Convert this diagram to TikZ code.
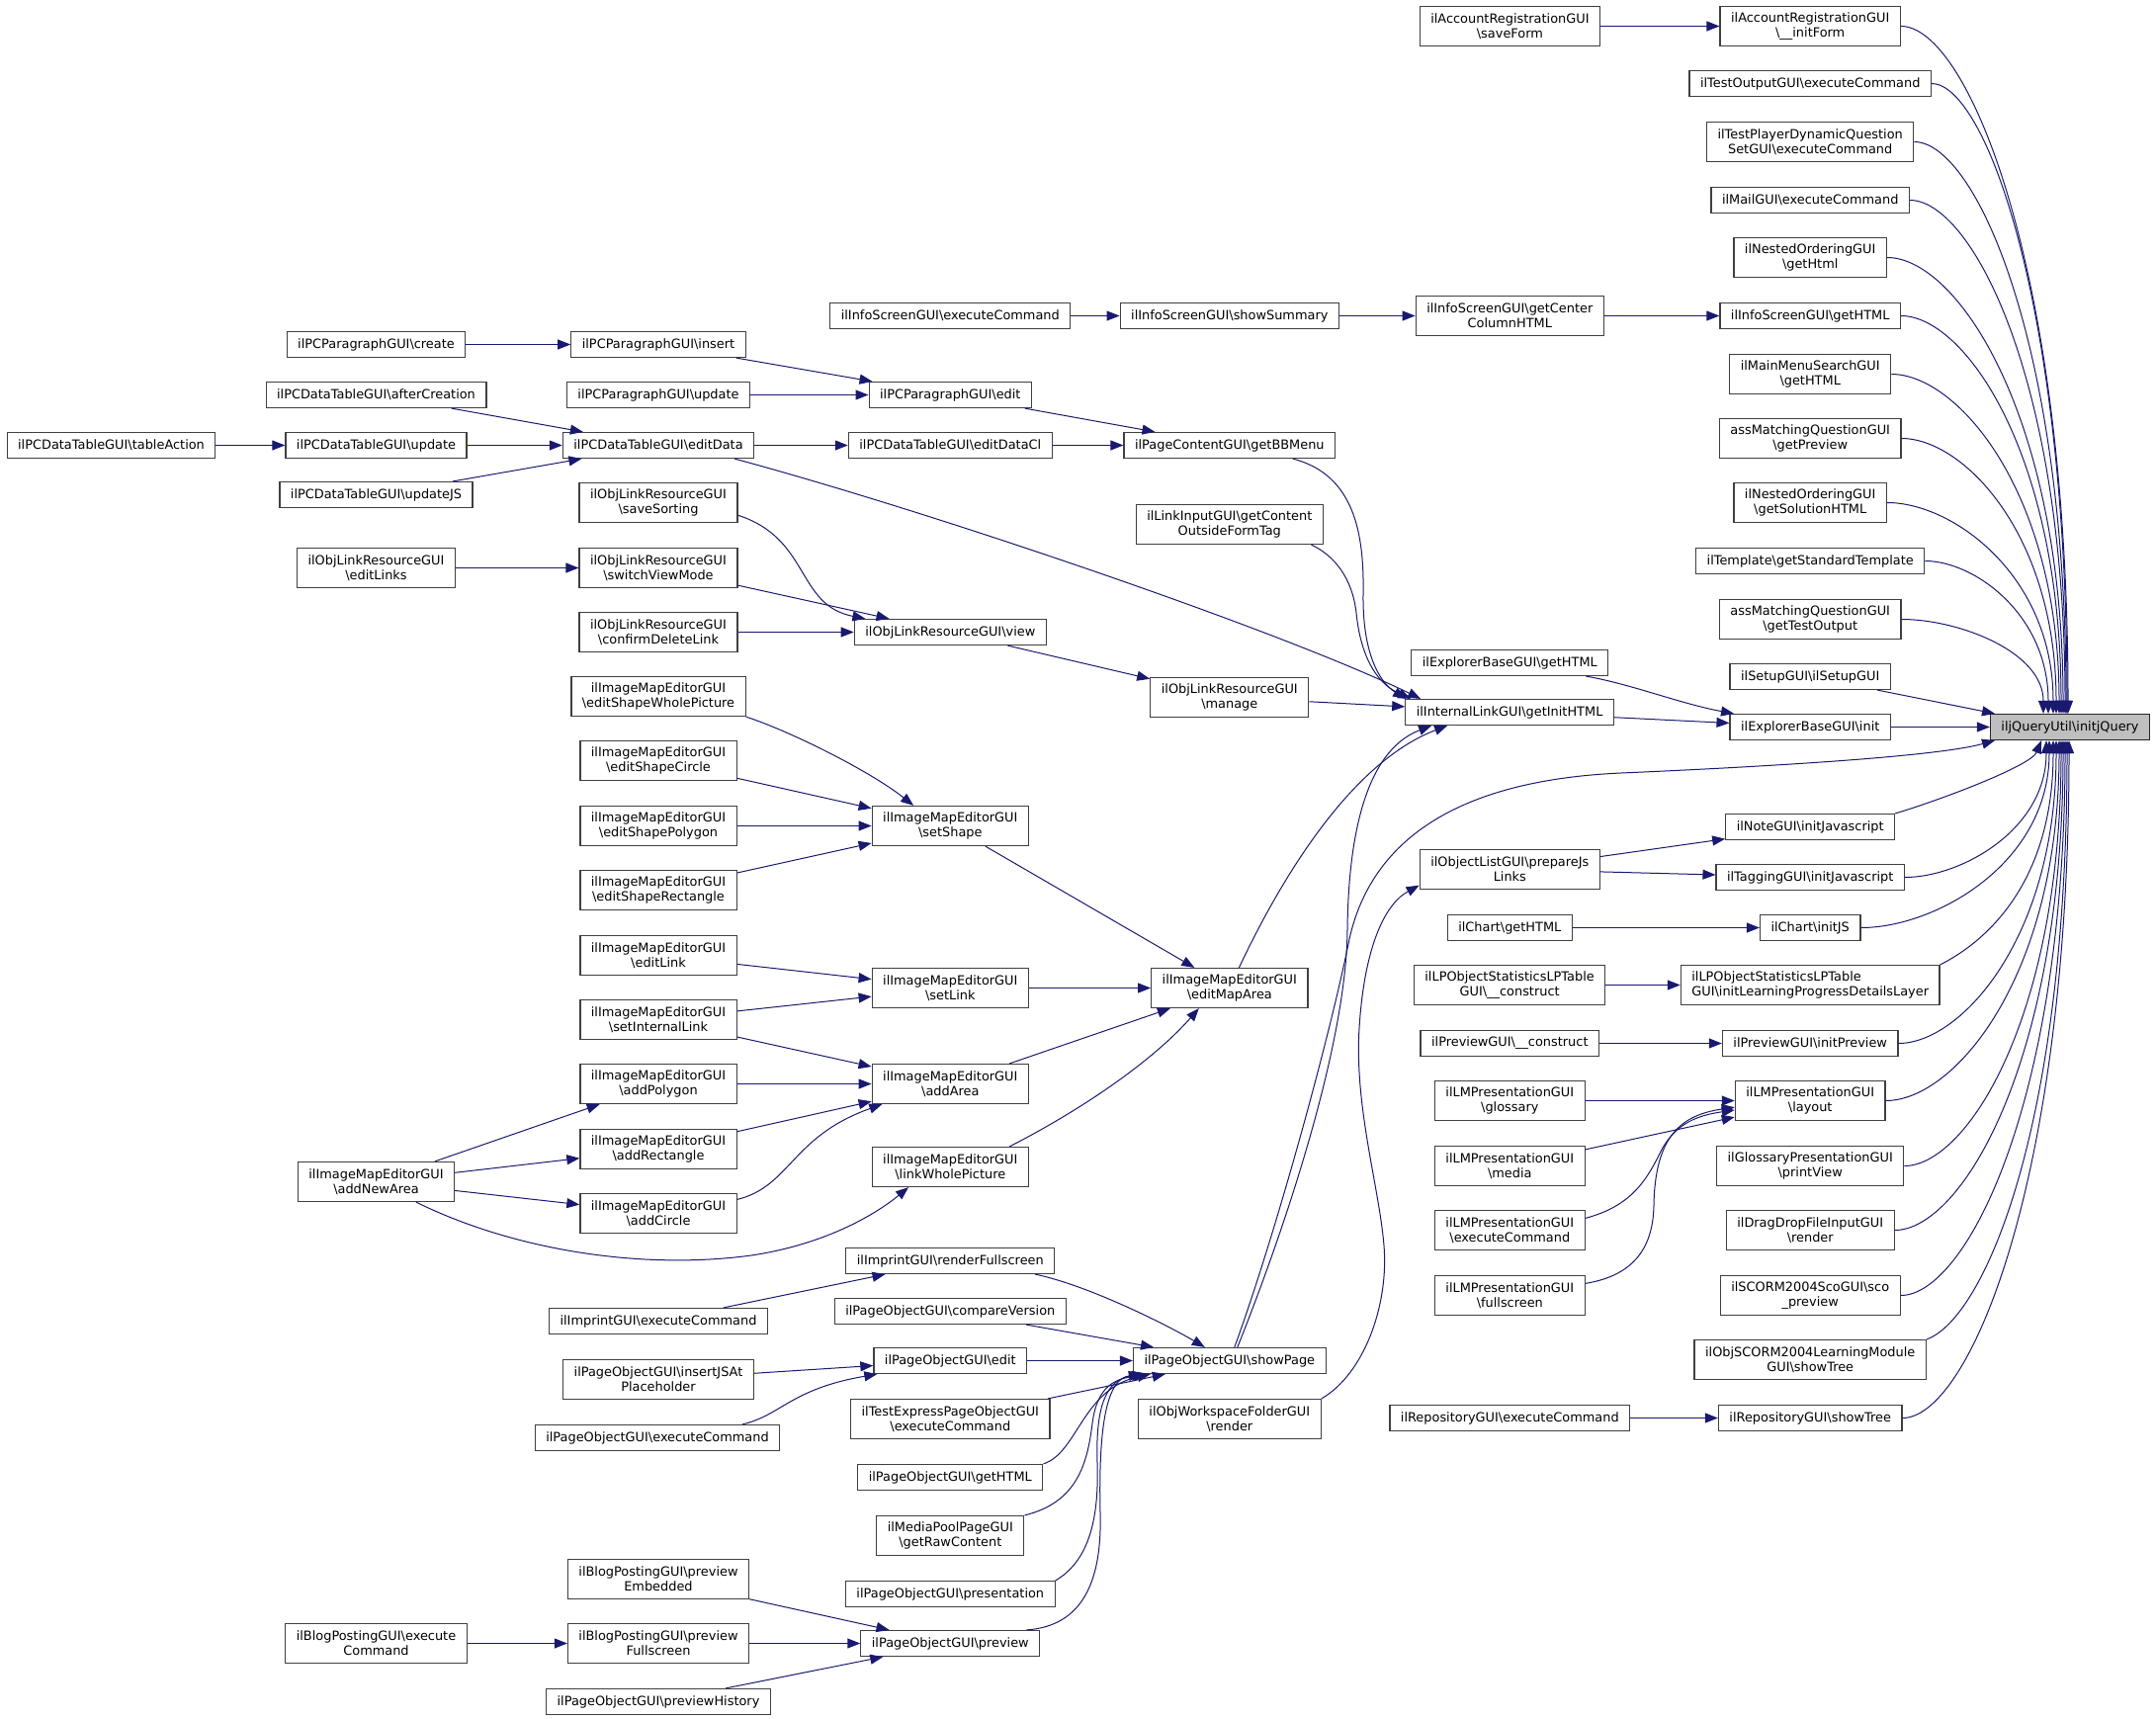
\documentclass[tikz,border=0pt]{standalone}
\usepackage{fontspec}
\setmainfont{DejaVu Sans}
\usetikzlibrary{arrows.meta}
\definecolor{edgeblue}{rgb}{0.098,0.098,0.439}
\definecolor{boxgray}{rgb}{0.25,0.25,0.25}
\definecolor{rootgray}{rgb}{0.75,0.75,0.75}
\newcommand{\bsl}{\textbackslash}
\tikzset{
  fn/.style={draw=boxgray, fill=white, line width=1.2pt, inner xsep=11pt, inner ysep=2pt,
    minimum height=26pt, align=center, font=\fontsize{12.9}{15}\selectfont},
  fntwo/.style={fn, minimum height=40pt},
  rootfn/.style={fn, fill=rootgray, draw=black!85},
  callarrow/.style={draw=edgeblue, line width=1pt, -{Triangle[length=13pt,width=10pt]}}
}

\begin{document}
\begin{tikzpicture}[x=1pt,y=-1pt]
      \useasboundingbox (0,0) rectangle (2181,1739);
      % column 0 and 1
      \node[fn] (tableact) at (112.5,450.5) {ilPCDataTableGUI\bsl tableAction};
      \node[fn] (parcreate) at (380.5,348.5) {ilPCParagraphGUI\bsl create};
      \node[fn] (dtafter) at (380.5,399.5) {ilPCDataTableGUI\bsl afterCreation};
      \node[fn] (dtupdate) at (380.5,450.5) {ilPCDataTableGUI\bsl update};
      \node[fn] (dtupdjs) at (380.5,500.5) {ilPCDataTableGUI\bsl updateJS};
      \node[fntwo] (oleditlinks) at (380.5,574.5) {ilObjLinkResourceGUI\\\bsl editLinks};
      \node[fntwo] (imnewarea) at (380.5,1195.5) {ilImageMapEditorGUI\\\bsl addNewArea};
      \node[fntwo] (blogexec) at (380.5,1662.5) {ilBlogPostingGUI\bsl execute\\Command};
      % column 2
      \node[fn] (parinsert) at (666,348.5) {ilPCParagraphGUI\bsl insert};
      \node[fn] (parupdate) at (666,399.5) {ilPCParagraphGUI\bsl update};
      \node[fn] (dteditdata) at (666,450.5) {ilPCDataTableGUI\bsl editData};
      \node[fntwo] (olsavesort) at (666,508.5) {ilObjLinkResourceGUI\\\bsl saveSorting};
      \node[fntwo] (olswitch) at (666,574.5) {ilObjLinkResourceGUI\\\bsl switchViewMode};
      \node[fntwo] (olconfirm) at (666,639.5) {ilObjLinkResourceGUI\\\bsl confirmDeleteLink};
      \node[fntwo] (imwhole) at (666,704.5) {ilImageMapEditorGUI\\\bsl editShapeWholePicture};
      \node[fntwo] (imcircle) at (666,769.5) {ilImageMapEditorGUI\\\bsl editShapeCircle};
      \node[fntwo] (impolygon) at (666,835.5) {ilImageMapEditorGUI\\\bsl editShapePolygon};
      \node[fntwo] (imrect) at (666,900.5) {ilImageMapEditorGUI\\\bsl editShapeRectangle};
      \node[fntwo] (imeditlink) at (666,966.5) {ilImageMapEditorGUI\\\bsl editLink};
      \node[fntwo] (iminternal) at (666,1031.5) {ilImageMapEditorGUI\\\bsl setInternalLink};
      \node[fntwo] (imaddpoly) at (666,1096.5) {ilImageMapEditorGUI\\\bsl addPolygon};
      \node[fntwo] (imaddrect) at (666,1162.5) {ilImageMapEditorGUI\\\bsl addRectangle};
      \node[fntwo] (imaddcircle) at (666,1227.5) {ilImageMapEditorGUI\\\bsl addCircle};
      \node[fn] (imprexec) at (666,1336.5) {ilImprintGUI\bsl executeCommand};
      \node[fntwo] (poinsert) at (666,1395.5) {ilPageObjectGUI\bsl insertJSAt\\Placeholder};
      \node[fn] (poexec) at (665,1454.5) {ilPageObjectGUI\bsl executeCommand};
      \node[fntwo] (blogembed) at (666,1597.5) {ilBlogPostingGUI\bsl preview\\Embedded};
      \node[fntwo] (blogfull) at (666,1662.5) {ilBlogPostingGUI\bsl preview\\Fullscreen};
      \node[fn] (pohistory) at (666,1721.5) {ilPageObjectGUI\bsl previewHistory};
      % column 3
      \node[fn] (isexec) at (961.3,319.5) {ilInfoScreenGUI\bsl executeCommand};
      \node[fn] (paredit) at (961.3,399.5) {ilPCParagraphGUI\bsl edit};
      \node[fn] (dteditcl) at (961.3,450.5) {ilPCDataTableGUI\bsl editDataCl};
      \node[fn] (olview) at (961.3,639.5) {ilObjLinkResourceGUI\bsl view};
      \node[fntwo] (imsetshape) at (961.3,835.5) {ilImageMapEditorGUI\\\bsl setShape};
      \node[fntwo] (imsetlink) at (961.3,999.5) {ilImageMapEditorGUI\\\bsl setLink};
      \node[fntwo] (imaddarea) at (961.3,1096.5) {ilImageMapEditorGUI\\\bsl addArea};
      \node[fntwo] (imwholepic) at (961.3,1180.5) {ilImageMapEditorGUI\\\bsl linkWholePicture};
      \node[fn] (imprfull) at (961.3,1275.5) {ilImprintGUI\bsl renderFullscreen};
      \node[fn] (pocompare) at (961.3,1326.5) {ilPageObjectGUI\bsl compareVersion};
      \node[fn] (poedit) at (961.3,1376.5) {ilPageObjectGUI\bsl edit};
      \node[fntwo] (texexec) at (961.3,1435.5) {ilTestExpressPageObjectGUI\\\bsl executeCommand};
      \node[fn] (pogethtml) at (961.3,1494.5) {ilPageObjectGUI\bsl getHTML};
      \node[fntwo] (mprawcontent) at (961.3,1553.5) {ilMediaPoolPageGUI\\\bsl getRawContent};
      \node[fn] (popresent) at (961.3,1612.5) {ilPageObjectGUI\bsl presentation};
      \node[fn] (popreview) at (961.3,1662.5) {ilPageObjectGUI\bsl preview};
      % column 4
      \node[fn] (isshowsum) at (1243.8,319.5) {ilInfoScreenGUI\bsl showSummary};
      \node[fn] (bbmenu) at (1243.8,450.5) {ilPageContentGUI\bsl getBBMenu};
      \node[fntwo] (linkinput) at (1243.8,530.5) {ilLinkInputGUI\bsl getContent\\OutsideFormTag};
      \node[fntwo] (olmanage) at (1243.8,705.5) {ilObjLinkResourceGUI\\\bsl manage};
      \node[fntwo] (imeditmap) at (1243.8,999.5) {ilImageMapEditorGUI\\\bsl editMapArea};
      \node[fn] (poshowpage) at (1243.8,1376.5) {ilPageObjectGUI\bsl showPage};
      \node[fntwo] (owsrender) at (1243.8,1435.5) {ilObjWorkspaceFolderGUI\\\bsl render};
      % column 5
      \node[fntwo] (arsaveform) at (1527.4,26.5) {ilAccountRegistrationGUI\\\bsl saveForm};
      \node[fntwo] (iscenter) at (1527.3,319.5) {ilInfoScreenGUI\bsl getCenter\\ColumnHTML};
      \node[fn] (expgethtml) at (1527.3,670.5) {ilExplorerBaseGUI\bsl getHTML};
      \node[fn] (ilgetinit) at (1527.1,720.5) {ilInternalLinkGUI\bsl getInitHTML};
      \node[fntwo] (olprepare) at (1527.3,879.5) {ilObjectListGUI\bsl prepareJs\\Links};
      \node[fn] (chartgethtml) at (1527.3,938.5) {ilChart\bsl getHTML};
      \node[fntwo] (lpconstruct) at (1527.1,996.5) {ilLPObjectStatisticsLPTable\\GUI\bsl\_\_construct};
      \node[fn] (prevconstruct) at (1527.3,1055.5) {ilPreviewGUI\bsl\_\_construct};
      \node[fntwo] (lmglossary) at (1527.3,1113.5) {ilLMPresentationGUI\\\bsl glossary};
      \node[fntwo] (lmmedia) at (1527.3,1179.5) {ilLMPresentationGUI\\\bsl media};
      \node[fntwo] (lmexec) at (1527.3,1244.5) {ilLMPresentationGUI\\\bsl executeCommand};
      \node[fntwo] (lmfull) at (1527.3,1310.5) {ilLMPresentationGUI\\\bsl fullscreen};
      \node[fn] (repoexec) at (1527.3,1434.5) {ilRepositoryGUI\bsl executeCommand};
      % column 6
      \node[fntwo] (arinitform) at (1831.2,26.5) {ilAccountRegistrationGUI\\\bsl\_\_initForm};
      \node[fn] (testoutput) at (1831.2,84.5) {ilTestOutputGUI\bsl executeCommand};
      \node[fntwo] (testplayer) at (1831.2,143.5) {ilTestPlayerDynamicQuestion\\SetGUI\bsl executeCommand};
      \node[fn] (mailexec) at (1831.2,202.5) {ilMailGUI\bsl executeCommand};
      \node[fntwo] (nestedhtml) at (1831.2,260.5) {ilNestedOrderingGUI\\\bsl getHtml};
      \node[fn] (isgethtml) at (1831.2,319.5) {ilInfoScreenGUI\bsl getHTML};
      \node[fntwo] (mmsearch) at (1831.2,378.5) {ilMainMenuSearchGUI\\\bsl getHTML};
      \node[fntwo] (amgetpreview) at (1831.2,443.5) {assMatchingQuestionGUI\\\bsl getPreview};
      \node[fntwo] (nestedsolution) at (1831.2,508.5) {ilNestedOrderingGUI\\\bsl getSolutionHTML};
      \node[fn] (template) at (1831.2,567.5) {ilTemplate\bsl getStandardTemplate};
      \node[fntwo] (amtestoutput) at (1831.2,626.5) {assMatchingQuestionGUI\\\bsl getTestOutput};
      \node[fn] (setupgui) at (1831.2,684.5) {ilSetupGUI\bsl ilSetupGUI};
      \node[fn] (expinit) at (1831.2,735.5) {ilExplorerBaseGUI\bsl init};
      \node[fn] (noteinit) at (1831.2,836.5) {ilNoteGUI\bsl initJavascript};
      \node[fn] (tagginit) at (1831.2,887.5) {ilTaggingGUI\bsl initJavascript};
      \node[fn] (chartinit) at (1831.2,938.5) {ilChart\bsl initJS};
      \node[fntwo, align=left] (lpinitlayer) at (1831.2,996.5) {ilLPObjectStatisticsLPTable\\GUI\bsl initLearningProgressDetailsLayer};
      \node[fn] (previnit) at (1831.2,1055.5) {ilPreviewGUI\bsl initPreview};
      \node[fntwo] (lmlayout) at (1831.2,1113.5) {ilLMPresentationGUI\\\bsl layout};
      \node[fntwo] (glossprint) at (1831.2,1179.5) {ilGlossaryPresentationGUI\\\bsl printView};
      \node[fntwo] (dragdrop) at (1831.2,1244.5) {ilDragDropFileInputGUI\\\bsl render};
      \node[fntwo] (scopreview) at (1831.2,1310.5) {ilSCORM2004ScoGUI\bsl sco\\\_preview};
      \node[fntwo] (scormtree) at (1831.2,1375.5) {ilObjSCORM2004LearningModule\\GUI\bsl showTree};
      \node[fn] (repotree) at (1831.2,1434.5) {ilRepositoryGUI\bsl showTree};
      % root
      \node[rootfn] (jq) at (2094,735.5) {iljQueryUtil\bsl initjQuery};

      % straight calls
      \foreach \from/\to in {arsaveform/arinitform, isexec/isshowsum, isshowsum/iscenter,
          iscenter/isgethtml, parcreate/parinsert, parinsert/paredit, parupdate/paredit,
          paredit/bbmenu, dtafter/dteditdata, tableact/dtupdate, dtupdate/dteditdata,
          dtupdjs/dteditdata, dteditdata/dteditcl, dteditcl/bbmenu, oleditlinks/olswitch,
          olswitch/olview, olconfirm/olview, olview/olmanage, olmanage/ilgetinit,
          ilgetinit/expinit, expinit/jq, imcircle/imsetshape, impolygon/imsetshape,
          imrect/imsetshape, imsetshape/imeditmap, imeditlink/imsetlink, iminternal/imsetlink,
          iminternal/imaddarea, imsetlink/imeditmap, imaddarea/imeditmap, imaddpoly/imaddarea,
          imaddrect/imaddarea, imnewarea/imaddpoly, imnewarea/imaddrect, imnewarea/imaddcircle,
          imprexec/imprfull, pocompare/poshowpage, poedit/poshowpage, poinsert/poedit,
          texexec/poshowpage, blogembed/popreview, blogfull/popreview, pohistory/popreview,
          blogexec/blogfull, olprepare/noteinit, olprepare/tagginit, chartgethtml/chartinit,
          lpconstruct/lpinitlayer, prevconstruct/previnit, lmglossary/lmlayout,
          lmmedia/lmlayout, repoexec/repotree}
        \draw[callarrow] (\from) -- (\to);
      \draw[callarrow] (setupgui) -- ([xshift=-76pt]jq.north);

      % curved calls on the left
      \draw[callarrow] (olsavesort.-9) .. controls (820,545) and (805,612) .. (olview.171);
      \draw[callarrow] (imwhole.south east) .. controls (800,740) and (880,780) .. (imsetshape.151);
      \draw[callarrow] (imaddcircle.10) .. controls (800,1200) and (800,1150) .. ([xshift=-69pt]imaddarea.south);
      \draw[callarrow] (imnewarea.-27) .. controls (520,1265) and (650,1285) .. (760,1270)
        .. controls (840,1258) and (890,1225) .. (imwholepic.-154);
      \draw[callarrow] (imwholepic.19) .. controls (1080,1130) and (1160,1080) .. ([xshift=-31pt]imeditmap.south);
      \draw[callarrow] (poexec.9) .. controls (790,1432) and (800,1405) .. ([xshift=-74pt]poedit.south);
      \draw[callarrow] (imprfull.-9) .. controls (1100,1300) and (1180,1340) .. ([xshift=-25pt]poshowpage.north);
      \draw[callarrow] (pogethtml.north east) .. controls (1090,1470) and (1095,1405) .. ([xshift=-80pt]poshowpage.south);
      \draw[callarrow] (mprawcontent.north east) .. controls (1090,1520) and (1100,1480) .. (1105,1440)
        .. controls (1110,1400) and (1130,1395) .. ([xshift=-84pt]poshowpage.south);
      \draw[callarrow] (popresent.north east) .. controls (1100,1580) and (1112,1540) .. (1110,1480)
        .. controls (1108,1420) and (1120,1395) .. ([xshift=-86pt]poshowpage.south);
      \draw[callarrow] (popreview.10) .. controls (1095,1645) and (1115,1600) .. (1113,1530)
        .. controls (1111,1440) and (1120,1395) .. ([xshift=-89pt]poshowpage.south);

      % calls into getInitHTML
      \draw[callarrow] (dteditdata.-10) .. controls (950,520) and (1300,640) .. ([xshift=-90pt]ilgetinit.north);
      \draw[callarrow] (bbmenu.-12) .. controls (1370,480) and (1380,540) .. (1379,600)
        .. controls (1378,660) and (1395,690) .. ([xshift=-105pt]ilgetinit.north);
      \draw[callarrow] (linkinput.-14) .. controls (1350,562) and (1368,585) .. (1372,620)
        .. controls (1376,660) and (1390,690) .. ([xshift=-100pt]ilgetinit.north);
      \draw[callarrow] (imeditmap.65) .. controls (1300,880) and (1370,770) .. ([xshift=-63pt]ilgetinit.south);
      \draw[callarrow] ([xshift=8pt]poshowpage.north) .. controls (1297,1250) and (1362,1060) .. (1363,940)
        .. controls (1364,850) and (1380,760) .. ([xshift=-79pt]ilgetinit.south);
      \draw[callarrow] (owsrender.north east) .. controls (1380,1390) and (1405,1320) .. (1400,1260)
        .. controls (1395,1200) and (1370,1120) .. (1375,1040)
        .. controls (1380,960) and (1400,915) .. (olprepare.190);
      \draw[callarrow] (expgethtml.-10) .. controls (1650,692) and (1700,712) .. (expinit.170);

      % calls into layout
      \draw[callarrow] (lmexec.9) .. controls (1650,1220) and (1665,1195) .. (1680,1165)
        .. controls (1695,1135) and (1720,1128) .. (lmlayout.-173);
      \draw[callarrow] (lmfull.9) .. controls (1655,1290) and (1672,1260) .. (1673,1220)
        .. controls (1674,1150) and (1700,1128) .. (lmlayout.-175);

      % calls into initjQuery from above
      \draw[callarrow] (arinitform.east) .. controls +(67,0) and +(0,-453) .. ([xshift=-2pt]jq.north);
      \draw[callarrow] (testoutput.east) .. controls +(54,0) and +(0,-415) .. ([xshift=-3pt]jq.north);
      \draw[callarrow] (testplayer.east) .. controls +(61,0) and +(0,-377) .. ([xshift=-4pt]jq.north);
      \draw[callarrow] (mailexec.east) .. controls +(62,0) and +(0,-339) .. ([xshift=-5pt]jq.north);
      \draw[callarrow] (nestedhtml.east) .. controls +(71,0) and +(0,-300) .. ([xshift=-7pt]jq.north);
      \draw[callarrow] (isgethtml.east) .. controls +(64,0) and +(0,-263) .. ([xshift=-9pt]jq.north);
      \draw[callarrow] (mmsearch.east) .. controls +(67,0) and +(0,-224) .. ([xshift=-11pt]jq.north);
      \draw[callarrow] (amgetpreview.east) .. controls +(62,0) and +(0,-182) .. ([xshift=-14pt]jq.north);
      \draw[callarrow] (nestedsolution.east) .. controls +(67,0) and +(0,-139) .. ([xshift=-17pt]jq.north);
      \draw[callarrow] (template.east) .. controls +(50,0) and +(0,-100) .. ([xshift=-22pt]jq.north);
      \draw[callarrow] (amtestoutput.east) .. controls +(57,0) and +(0,-63) .. ([xshift=-27pt]jq.north);

      % calls into initjQuery from below
      \draw[callarrow] ([xshift=5pt]poshowpage.north) .. controls (1290,1250) and (1345,1050) .. (1365,950)
        .. controls (1385,860) and (1460,790) .. (1640,782)
        .. controls (1800,775) and (1960,765) .. ([xshift=-76pt]jq.south);
      \draw[callarrow] (noteinit.north east) .. controls +(50,-15) and +(-10,25) .. ([xshift=-29pt]jq.south);
      \draw[callarrow] (tagginit.east) .. controls +(57,0) and +(0,90) .. ([xshift=-24pt]jq.south);
      \draw[callarrow] (chartinit.east) .. controls +(76,0) and +(0,124) .. ([xshift=-21pt]jq.south);
      \draw[callarrow] (lpinitlayer.north east) .. controls +(40,-20) and +(0,150) .. ([xshift=-17pt]jq.south);
      \draw[callarrow] (previnit.east) .. controls +(63,0) and +(0,200) .. ([xshift=-14pt]jq.south);
      \draw[callarrow] (lmlayout.east) .. controls +(70,0) and +(0,238) .. ([xshift=-11pt]jq.south);
      \draw[callarrow] (glossprint.east) .. controls +(63,0) and +(0,280) .. ([xshift=-9pt]jq.south);
      \draw[callarrow] (dragdrop.east) .. controls +(68,0) and +(0,323) .. ([xshift=-7pt]jq.south);
      \draw[callarrow] (scopreview.east) .. controls +(66,0) and +(0,365) .. ([xshift=-5pt]jq.south);
      \draw[callarrow] (scormtree.north east) .. controls +(57,-20) and +(0,395) .. ([xshift=-3pt]jq.south);
      \draw[callarrow] (repotree.east) .. controls +(67,0) and +(0,446) .. ([xshift=-1pt]jq.south);
\end{tikzpicture}
\end{document}
